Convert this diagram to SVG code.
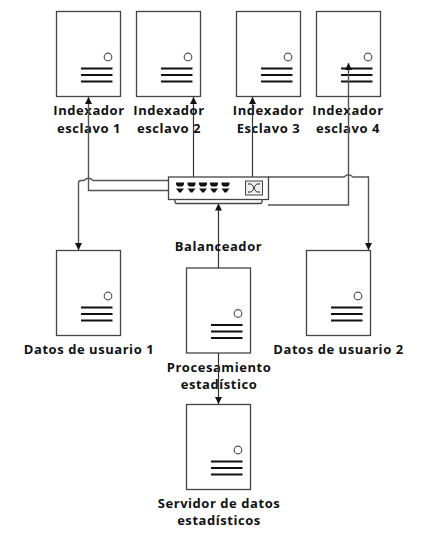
<svg xmlns="http://www.w3.org/2000/svg" width="431" height="533" viewBox="0 0 431 533">
<style>
.box{fill:#fff;stroke:#444;stroke-width:1.3}
.dot{fill:#fff;stroke:#555;stroke-width:1.2}
.bar{stroke:#111;stroke-width:1.8;fill:none}
.wire{fill:none;stroke:#333;stroke-width:1.2}
.gw{fill:none;stroke:#555;stroke-width:1.4}
text{font-family:"Open Sans","DejaVu Sans",sans-serif;font-weight:700;font-size:13px;letter-spacing:.55px;fill:#111;text-anchor:middle}
.port{fill:#111}
</style>
<defs>
<marker id="arr" markerUnits="userSpaceOnUse" markerWidth="8" markerHeight="7" refX="7" refY="3.5" orient="auto"><path d="M0 0L7 3.5L0 7Z" fill="#111"/></marker>
<g id="srv">
<rect class="box" x="0" y="0" width="64" height="85"/>
<circle class="dot" cx="51.5" cy="45.5" r="3.8"/>
<path class="bar" d="M24.5 57H56M24.5 63.5H56M24.5 70H56"/>
</g>
<g id="pt"><path class="port" d="M0 0H8V2L6.5 4H1.5L0 2ZM0 6H8L6 8.5L5 10H3L2 8.5Z"/></g>
</defs>
<g id="node-indexador-1"><use href="#srv" x="56.5" y="11.5"/><text x="89" y="115">Indexador</text><text x="89" y="133">esclavo 1</text></g>
<g id="node-indexador-2"><use href="#srv" x="136.5" y="11.5"/><text x="169" y="115">Indexador</text><text x="169" y="133">esclavo 2</text></g>
<g id="node-indexador-3"><use href="#srv" x="236.5" y="11.5"/><text x="268.5" y="115">Indexador</text><text x="268.5" y="133">Esclavo 3</text></g>
<g id="node-indexador-4"><use href="#srv" x="316.5" y="11.5"/><text x="348" y="115">Indexador</text><text x="348" y="133">esclavo 4</text></g>
<g id="node-datos-1"><use href="#srv" x="56.5" y="250.5"/><text x="89" y="354">Datos de usuario 1</text></g>
<g id="node-datos-2"><use href="#srv" x="306.5" y="250.5"/><text x="338.5" y="354">Datos de usuario 2</text></g>
<g id="node-procesamiento"><use href="#srv" x="186.5" y="268"/><text x="219" y="371.5">Procesamiento</text><text x="219" y="388.5">estadístico</text></g>
<g id="node-servidor"><use href="#srv" x="186.5" y="404.5"/><text x="219" y="508">Servidor de datos</text><text x="219" y="525">estadísticos</text></g>
<g id="connectors">
<path class="gw" d="M168 190.5H88.5V97" marker-end="url(#arr)"/>
<path class="gw" d="M168 180.5H93Q88.5 176 84 180.5H81Q78.5 180.5 78.5 183V250" marker-end="url(#arr)"/>
<path class="wire" d="M193.5 177V97" marker-end="url(#arr)"/>
<path class="wire" d="M252.5 177V97" marker-end="url(#arr)"/>
<path class="gw" d="M268 205H348.5V63" marker-end="url(#arr)"/>
<path class="gw" d="M268 177H344Q348.5 172.5 353 177H368.5V250" marker-end="url(#arr)"/>
<path class="wire" d="M218.5 268V203.5" marker-end="url(#arr)"/>
<path class="wire" d="M218.5 353V404" marker-end="url(#arr)"/>
</g>
<g id="node-balanceador">
<path d="M175 199V201.5Q175 203.5 177 203.5H260Q262 203.5 262 201.5V199" fill="#fff" stroke="#444" stroke-width="1.3"/>
<rect x="168.5" y="177" width="100" height="22.5" fill="#fff" stroke="#444" stroke-width="1.3"/>
<use href="#pt" x="176" y="182.5"/><use href="#pt" x="187.5" y="182.5"/><use href="#pt" x="199" y="182.5"/><use href="#pt" x="210" y="182.5"/><use href="#pt" x="221.5" y="182.5"/>
<rect x="245.5" y="181" width="17" height="14" fill="#eee" stroke="#444" stroke-width="1"/>
<path d="M248 184H250.500C253.500 184 254.500 192 257.500 192H260M248 192H250.500C253.500 192 254.500 184 257.500 184H260" fill="none" stroke="#222" stroke-width="1"/>
<text x="218.5" y="251">Balanceador</text>
</g>
</svg>
